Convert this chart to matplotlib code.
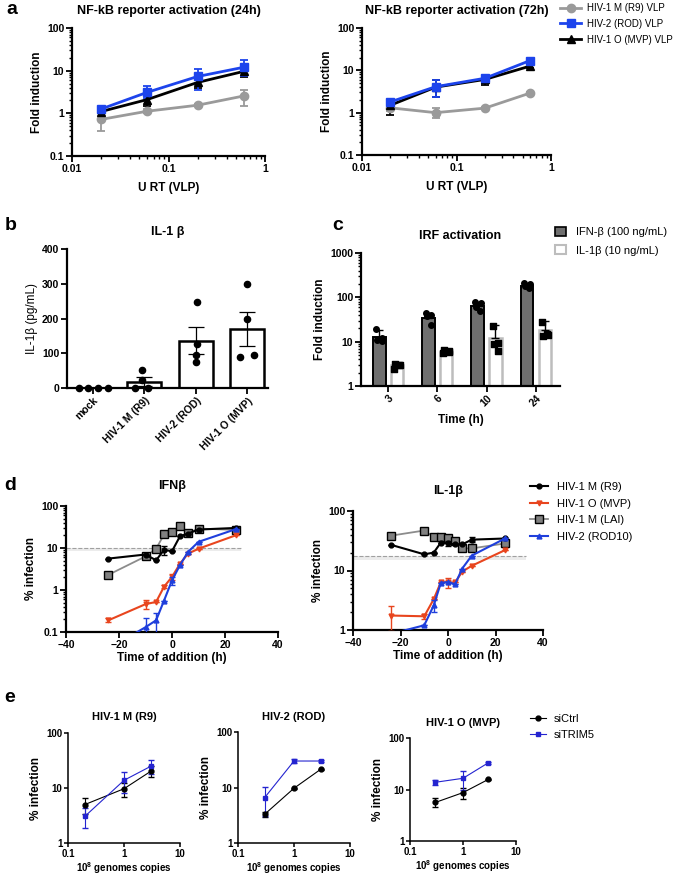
import matplotlib
matplotlib.use('Agg')
import matplotlib.pyplot as plt
import numpy as np
from matplotlib.lines import Line2D
from matplotlib.patches import Patch
from matplotlib.ticker import LogLocator, NullFormatter, FixedLocator, FuncFormatter

plt.rcParams['font.family'] = ['Liberation Sans', 'DejaVu Sans']
plt.rcParams['font.weight'] = 'bold'
plt.rcParams['axes.labelweight'] = 'bold'
plt.rcParams['axes.titleweight'] = 'bold'
plt.rcParams['mathtext.fontset'] = 'custom'
plt.rcParams['mathtext.bf'] = 'Liberation Sans:bold'
plt.rcParams['mathtext.rm'] = 'Liberation Sans'

# ---------- panel a : NF-kB reporter ----------
urt = [0.02, 0.06, 0.2, 0.6]
r9_24 = [0.72, 1.12, 1.55, 2.55]
r9_24_lo = [0.39, 1.0, 1.45, 1.5]
r9_24_hi = [1.0, 1.25, 1.65, 3.6]
rod_24 = [1.26, 3.1, 7.3, 12.0]
rod_24_lo = [1.1, 2.3, 3.6, 7.5]
rod_24_hi = [1.4, 4.4, 11.0, 17.4]
mvp_24 = [1.1, 2.1, 5.3, 9.6]
mvp_24_lo = [1.0, 1.45, 4.0, 7.0]
mvp_24_hi = [1.2, 2.8, 6.5, 12.0]
r9_72 = [1.3, 1.0, 1.28, 2.9]
r9_72_lo = [1.1, 0.76, 1.2, 2.7]
r9_72_hi = [1.45, 1.3, 1.35, 3.1]
rod_72 = [1.8, 4.1, 6.5, 17.0]
rod_72_lo = [1.6, 2.3, 5.0, 15.0]
rod_72_hi = [2.0, 5.9, 7.5, 19.0]
mvp_72 = [1.5, 4.0, 6.1, 12.6]
mvp_72_lo = [0.9, 2.3, 4.5, 11.5]
mvp_72_hi = [2.0, 5.9, 7.3, 14.0]

# ---------- panel b : IL-1b secretion ----------
b_cats = ['mock', 'HIV-1 M (R9)', 'HIV-2 (ROD)', 'HIV-1 O (MVP)']
b_points = [[0, 0, 0, 0], [51, 22, 0, 0], [247, 128, 95, 74], [298, 199, 89, 94]]

# ---------- panel c : IRF activation ----------
c_times = ['3', '6', '10', '24']
ifnb_mean = [12.5, 35, 63, 178]
ifnb_sd = [5.5, 9, 13, 25]
ifnb_pts = [[19, 12, 11, 10.5], [45, 39, 37, 24], [80, 73, 59, 50], [215, 195, 180, 160]]
il1b_mean = [3.0, 6.0, 11.9, 18.0]
il1b_sd = [0.3, 0.4, 11.5, 12]
il1b_pts = [[2.4, 3.0, 3.1, 3.0], [5.5, 5.9, 6.5, 6.3], [22.6, 9.2, 8.7, 6.3], [28, 14.1, 13.4, 14.6]]

# ---------- panel d : time of addition ----------
t_add = [-24, -10, -6, -3, 0, 3, 6, 10, 24]
ifn_r9 = [5.6, 7.0, 5.1, 9.0, 8.4, 19, 22, 27.5, 30]
ifn_r9_err = [0, 0, 0, 2.2, 0, 0, 0, 0, 0]
ifn_lai = [2.3, 6.3, 9.6, 21, 24, 33, 22.5, 29, 27]
ifn_mvp = [0.19, 0.46, 0.52, 1.2, 2.05, 4.2, 7.3, 9.6, 20]
ifn_mvp_err = [0.02, 0.11, 0, 0.1, 0.3, 0, 0, 0, 0]
ifn_rod = [0.04, 0.13, 0.19, 0.56, 1.7, 3.9, 8.0, 14, 28]
ifn_rod_err = [0, 0.09, 0.1, 0, 0.35, 0, 0, 0, 0]
il_r9 = [27, 18.7, 20, 29.5, 28.5, 27.5, 27.5, 33, 34.5]
il_r9_err = [0, 0, 0, 0, 3, 0, 0, 3, 0]
il_lai = [38.5, 47, 36.5, 36, 35.5, 31, 23.5, 23.5, 28.5]
il_mvp = [1.75, 1.7, 3.3, 6.4, 6.3, 6.3, 9.6, 12, 22]
il_mvp_err = [0.8, 0.15, 0, 0, 1.2, 0, 0, 0, 0]
il_rod = [0.86, 1.2, 2.6, 6.2, 6.4, 5.9, 10.8, 17.8, 34.5]
il_rod_err = [0, 0, 0.6, 0, 0, 0, 0, 0, 0]

# ---------- panel e : siTRIM5 ----------
e_titles = ['HIV-1 M (R9)', 'HIV-2 (ROD)', 'HIV-1 O (MVP)']
e_dose = [[0.2, 1, 3], [0.3, 1, 3], [0.3, 1, 3]]
e_ctrl = [[5.0, 9.7, 20.1], [3.3, 9.7, 21.3], [5.6, 8.7, 15.7]]
e_ctrl_err = [[1.6, 2.8, 4.5], [0.3, 0.3, 0.5], [1.1, 2.2, 0.5]]
e_trim = [[3.05, 13.8, 24.8], [6.6, 30.0, 30.0], [13.8, 16.5, 33.0]]
e_trim_err = [[1.2, 5.7, 7.0], [3.5, 2.5, 1.0], [1.7, 6.5, 1.5]]

W, H = 679, 877
fig = plt.figure(figsize=(W / 100, H / 100), dpi=100)

TICK = 7.5
LAB = 8.5
TIT = 9
leg = {'weight': 'normal', 'size': 8}

def box(l, t, r, b):
    return fig.add_axes([l / W, 1 - b / H, (r - l) / W, (b - t) / H])

def prism(ax):
    for s in ['top', 'right']:
        ax.spines[s].set_visible(False)
    for s in ['left', 'bottom']:
        ax.spines[s].set_linewidth(1.6)
    ax.tick_params(width=1.3, length=4, labelsize=TICK, pad=1.5)
    ax.tick_params(which='minor', width=1.0, length=2.5)

def gfmt(v, p):
    return '%g' % v

def logy(ax, lo, hi, minor=True):
    ax.set_yscale('log')
    ax.set_ylim(lo, hi)
    ax.yaxis.set_major_locator(LogLocator(base=10))
    if minor:
        ax.yaxis.set_minor_locator(LogLocator(base=10, subs=np.arange(2, 10)))
    else:
        ax.yaxis.set_minor_locator(FixedLocator([]))
    ax.yaxis.set_minor_formatter(NullFormatter())
    ax.yaxis.set_major_formatter(FuncFormatter(gfmt))

def logx(ax, lo, hi, minor=True):
    ax.set_xscale('log')
    ax.set_xlim(lo, hi)
    if minor:
        ax.xaxis.set_minor_locator(LogLocator(base=10, subs=np.arange(2, 10)))
    else:
        ax.xaxis.set_minor_locator(FixedLocator([]))
    ax.xaxis.set_minor_formatter(NullFormatter())
    ax.xaxis.set_major_formatter(FuncFormatter(gfmt))

def err(y, lo, hi):
    y = np.array(y)
    return [y - np.array(lo), np.array(hi) - y]

GRAY = '#9a9a9a'
BLUE = '#1d44ec'

# ---- panel a
a_sets = [(72, 28, 265, 156, 'NF-kB reporter activation (24h)',
           (r9_24, r9_24_lo, r9_24_hi), (rod_24, rod_24_lo, rod_24_hi), (mvp_24, mvp_24_lo, mvp_24_hi)),
          (362, 28, 551, 155, 'NF-kB reporter activation (72h)',
           (r9_72, r9_72_lo, r9_72_hi), (rod_72, rod_72_lo, rod_72_hi), (mvp_72, mvp_72_lo, mvp_72_hi))]
for l, t, r, b, title, r9, rod, mvp in a_sets:
    ax = box(l, t, r, b)
    prism(ax)
    ax.errorbar(urt, r9[0], yerr=err(*r9), color=GRAY, marker='o', ms=6, lw=2, capsize=3, elinewidth=1.3, capthick=1.3)
    ax.errorbar(urt, mvp[0], yerr=err(*mvp), color='black', marker='^', ms=6, lw=2, capsize=3, elinewidth=1.3, capthick=1.3)
    ax.errorbar(urt, rod[0], yerr=err(*rod), color=BLUE, marker='s', ms=6, lw=2, capsize=3, elinewidth=1.3, capthick=1.3)
    logx(ax, 0.01, 1)
    logy(ax, 0.1, 100)
    ax.set_xlabel('U RT (VLP)', fontsize=LAB, labelpad=6)
    ax.set_ylabel('Fold induction', fontsize=LAB, labelpad=3)
    ax.set_title(title, fontsize=TIT, pad=10)

a_handles = [Line2D([], [], color=GRAY, marker='o', ms=6, lw=2),
             Line2D([], [], color=BLUE, marker='s', ms=6, lw=2),
             Line2D([], [], color='black', marker='^', ms=6, lw=2)]
fig.legend(a_handles, ['HIV-1 M (R9) VLP', 'HIV-2 (ROD) VLP', 'HIV-1 O (MVP) VLP'],
           loc='upper left', bbox_to_anchor=(560 / W, 1 - 3 / H), frameon=False,
           prop={'weight': 'normal', 'size': 7},
           handlelength=2.2, handletextpad=0.6, labelspacing=0.6, borderpad=0, borderaxespad=0)

# ---- panel b
ax = box(67, 249, 268, 388)
prism(ax)
xb = np.arange(len(b_cats))
b_mean = [np.mean(p) for p in b_points]
b_sem = [np.std(p, ddof=1) / np.sqrt(len(p)) for p in b_points]
ax.bar(xb[1:], b_mean[1:], width=0.66, color='white', edgecolor='black', linewidth=1.8, zorder=2)
ax.errorbar(xb[1:], b_mean[1:], yerr=b_sem[1:], fmt='none', ecolor='black', elinewidth=0.9, capsize=6, capthick=0.9, zorder=3)
jit = [[-0.27, -0.1, 0.1, 0.29], [-0.05, -0.05, -0.19, 0.08], [0.03, 0.02, 0.0, 0.0], [0.0, 0.0, -0.15, 0.12]]
for i, pts in enumerate(b_points):
    ax.scatter(i + np.array(jit[i]), pts, s=20, color='black', zorder=4, clip_on=False)
ax.set_xlim(-0.5, 3.4)
ax.set_ylim(0, 400)
ax.set_yticks([0, 100, 200, 300, 400])
ax.set_xticks(xb)
ax.set_xticklabels(b_cats, rotation=45, ha='right', rotation_mode='anchor', fontsize=TICK)
ax.set_ylabel('IL-1\u03b2 (pg/mL)', fontsize=LAB, fontweight='normal', labelpad=3)
ax.set_title('IL-1 \u03b2', fontsize=TIT, pad=10)

# ---- panel c
ax = box(361, 253, 560, 386)
prism(ax)
xc = np.arange(len(c_times))
ax.bar(xc - 0.18, ifnb_mean, width=0.26, color='#6f6f6f', edgecolor='black', linewidth=1.4, zorder=2)
ax.bar(xc + 0.18, il1b_mean, width=0.25, color='white', edgecolor='#bdbdbd', linewidth=1.8, zorder=2)
ax.errorbar(xc - 0.18, ifnb_mean, yerr=[np.zeros(4), ifnb_sd], fmt='none', ecolor='black', elinewidth=1, capsize=3, zorder=3)
ax.errorbar(xc + 0.18, il1b_mean, yerr=[np.zeros(4), il1b_sd], fmt='none', ecolor='black', elinewidth=1, capsize=3, zorder=3)
jc = [-0.06, 0.06, -0.04, 0.05]
for i in range(4):
    ax.scatter(i - 0.18 + np.array(jc), ifnb_pts[i], s=16, marker='o', color='black', zorder=4)
    ax.scatter(i + 0.18 + np.array(jc), il1b_pts[i], s=16, marker='s', color='black', zorder=4)
ax.set_xlim(-0.55, 3.49)
logy(ax, 1, 1000)
ax.set_xticks(xc)
ax.set_xticklabels(c_times, rotation=45, ha='right', rotation_mode='anchor', fontsize=TICK)
ax.set_xlabel('Time (h)', fontsize=LAB, labelpad=4)
ax.set_ylabel('Fold induction', fontsize=LAB, labelpad=3)
ax.set_title('IRF activation', fontsize=TIT, pad=10)
fig.legend([Patch(facecolor='#6f6f6f', edgecolor='black', lw=1.2), Patch(facecolor='white', edgecolor='#bdbdbd', lw=1.5)],
           ['IFN-\u03b2 (100 ng/mL)', 'IL-1\u03b2 (10 ng/mL)'], loc='upper left',
           bbox_to_anchor=(555 / W, 1 - 227 / H), frameon=False, prop=leg,
           handlelength=1.0, handleheight=0.9, handletextpad=0.9, labelspacing=0.7, borderpad=0, borderaxespad=0)

# ---- panel d
RED = '#e8451e'
DBLUE = '#1f3fdc'
d_sets = [(66, 506, 278, 632, 'IFN\u03b2', (0.1, 100), 10, 8.3, 26,
           ifn_r9, ifn_r9_err, ifn_lai, ifn_mvp, ifn_mvp_err, ifn_rod, ifn_rod_err),
          (353, 511, 543, 630, 'IL-1\u03b2', (1, 100), 17.7, 15, 33,
           il_r9, il_r9_err, il_lai, il_mvp, il_mvp_err, il_rod, il_rod_err)]
for (l, t, r, b, title, ylim, thr, band, xend, r9, r9e, lai, mvp, mvpe, rod, rode) in d_sets:
    ax = box(l, t, r, b)
    prism(ax)
    ax.fill_between([-40, xend], band, thr, color='#ececec', lw=0, zorder=0)
    ax.hlines(thr, -40, xend, colors='#a0a0a0', linestyles='--', lw=0.8, zorder=1)
    ax.plot(t_add, lai, color='#8c8c8c', lw=1.3, marker='s', ms=5.5, mfc='#808080', mec='black', mew=1.0, zorder=3)
    ax.errorbar(t_add, r9, yerr=r9e, color='black', lw=1.5, marker='o', ms=3.5, capsize=2.5, elinewidth=1, zorder=4)
    ax.errorbar(t_add, mvp, yerr=mvpe, color=RED, lw=1.5, marker='v', ms=3.5, capsize=2.5, elinewidth=1, zorder=4)
    ax.errorbar(t_add, rod, yerr=rode, color=DBLUE, lw=1.5, marker='^', ms=3.5, capsize=2.5, elinewidth=1, zorder=5)
    ax.set_xlim(-40, 40)
    ax.set_xticks([-40, -20, 0, 20, 40])
    logy(ax, *ylim)
    ax.set_xlabel('Time of addition (h)', fontsize=LAB, labelpad=2)
    ax.set_ylabel('% infection', fontsize=LAB, labelpad=3)
    ax.set_title(title, fontsize=TIT, pad=12)

d_handles = [Line2D([], [], color='black', marker='o', ms=3.5, lw=1.5),
             Line2D([], [], color=RED, marker='v', ms=3.5, lw=1.5),
             Line2D([], [], color='#8c8c8c', marker='s', ms=5.5, mfc='#808080', mec='black', lw=1.3),
             Line2D([], [], color=DBLUE, marker='^', ms=3.5, lw=1.5)]
fig.legend(d_handles, ['HIV-1 M (R9)', 'HIV-1 O (MVP)', 'HIV-1 M (LAI)', 'HIV-2 (ROD10)'],
           loc='upper left', bbox_to_anchor=(530 / W, 1 - 482 / H), frameon=False, prop=leg,
           handlelength=1.6, handletextpad=0.8, labelspacing=0.6, borderpad=0, borderaxespad=0)

# ---- panel e
NAVY = '#2424d0'
e_boxes = [(68, 733, 180, 843), (238, 732, 350, 843), (410, 738, 516, 841)]
for k, (l, t, r, b) in enumerate(e_boxes):
    ax = box(l, t, r, b)
    prism(ax)
    ax.errorbar(e_dose[k], e_ctrl[k], yerr=e_ctrl_err[k], color='black', lw=0.8, marker='o', ms=3.5,
                capsize=2, elinewidth=0.8)
    ax.errorbar(e_dose[k], e_trim[k], yerr=e_trim_err[k], color=NAVY, lw=0.8, marker='s', ms=3.5,
                capsize=2, elinewidth=0.8)
    logx(ax, 0.1, 10, minor=False)
    logy(ax, 1, 100, minor=False)
    ax.tick_params(length=3, width=1.1, labelsize=7, pad=1)
    for s in ['left', 'bottom']:
        ax.spines[s].set_linewidth(1.1)
    ax.set_xlabel(r'10$^{\bf 8}$ genomes copies', fontsize=7, labelpad=1.5)
    ax.set_ylabel('% infection', fontsize=LAB, labelpad=3)
    ax.set_title(e_titles[k], fontsize=8, pad=9)

fig.legend([Line2D([], [], color='black', marker='o', ms=3.5, lw=0.8),
            Line2D([], [], color=NAVY, marker='s', ms=3.5, lw=0.8)],
           ['siCtrl', 'siTRIM5'], loc='upper left', bbox_to_anchor=(530 / W, 1 - 714 / H),
           frameon=False, prop=leg, handlelength=1.4, handletextpad=0.7, labelspacing=0.5,
           borderpad=0, borderaxespad=0)

# panel letters
for letter, x, y in [('a', 6, 9), ('b', 5, 225), ('c', 332, 226), ('d', 4, 486), ('e', 4, 697)]:
    fig.text(x / W, 1 - y / H, letter, fontsize=14, fontweight='bold', ha='left', va='center')

fig.savefig('out.png', dpi=100)
